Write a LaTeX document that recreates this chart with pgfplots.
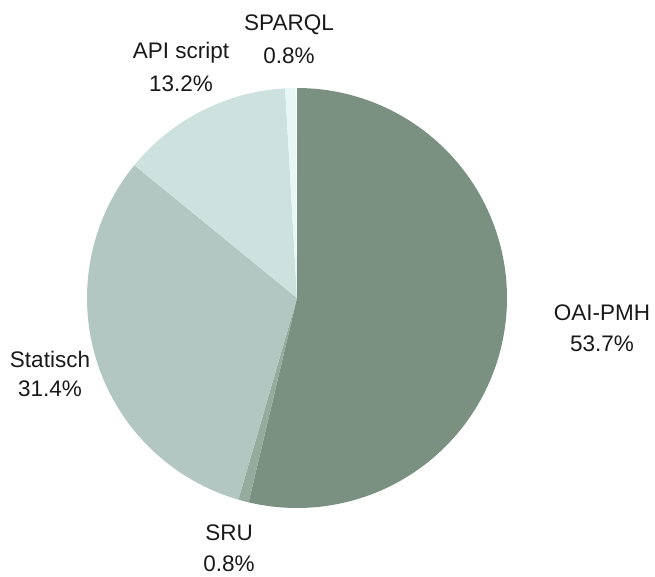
\documentclass[border=0pt]{standalone}
\usepackage{pgfplots}
\pgfplotsset{compat=1.18}
\usepackage{fontspec}
\setmainfont{Liberation Sans}
\definecolor{cOAI}{HTML}{7A9080}
\definecolor{cSRU}{HTML}{95AB9E}
\definecolor{cSTA}{HTML}{B2C7C1}
\definecolor{cAPI}{HTML}{CDE2DF}
\definecolor{cSPA}{HTML}{E6F7F5}
% shares in percent
\def\pOAI{53.7}\def\pSRU{0.8}\def\pSTA{31.4}\def\pAPI{13.2}\def\pSPA{0.8}
\begin{document}
\begin{tikzpicture}
\begin{axis}[
  scale only axis, width=655pt, height=576pt,
  xmin=0, xmax=655, ymin=0, ymax=576,
  hide axis, clip=false,
  /pgf/number format/assume math mode=true,
]
\pgfmathsetmacro{\aA}{90}
\pgfmathsetmacro{\aB}{\aA-3.6*\pOAI}
\pgfmathsetmacro{\aC}{\aB-3.6*\pSRU}
\pgfmathsetmacro{\aD}{\aC-3.6*\pSTA}
\pgfmathsetmacro{\aE}{\aD-3.6*\pAPI}
\pgfmathsetmacro{\aF}{\aE-3.6*\pSPA}
\def\cx{297}\def\cy{278}\def\R{210}
\addplot[fill=cOAI, draw=none, domain=\aB:\aA, samples=120] ({\cx+\R*cos(x)},{\cy+\R*sin(x)}) -- (axis cs:\cx,\cy) -- cycle;
\addplot[fill=cSRU, draw=none, domain=\aC:\aB, samples=5] ({\cx+\R*cos(x)},{\cy+\R*sin(x)}) -- (axis cs:\cx,\cy) -- cycle;
\addplot[fill=cSTA, draw=none, domain=\aD:\aC, samples=80] ({\cx+\R*cos(x)},{\cy+\R*sin(x)}) -- (axis cs:\cx,\cy) -- cycle;
\addplot[fill=cAPI, draw=none, domain=\aE:\aD, samples=40] ({\cx+\R*cos(x)},{\cy+\R*sin(x)}) -- (axis cs:\cx,\cy) -- cycle;
\addplot[fill=cSPA, draw=none, domain=\aF:\aE, samples=5] ({\cx+\R*cos(x)},{\cy+\R*sin(x)}) -- (axis cs:\cx,\cy) -- cycle;
\path (rel axis cs:0,0) rectangle (rel axis cs:1,1);
\tikzset{lab/.style={anchor=base, inner sep=0pt, font=\fontsize{22.5}{27}\selectfont, text=black!90}}
% labels (baselines in pixel coordinates, y flipped)
\node[lab] at (axis cs:602,{576-321}) {OAI-PMH};
\node[lab] at (axis cs:602,{576-351}) {\pOAI\%};
\node[lab] at (axis cs:229,{576-540}) {SRU};
\node[lab] at (axis cs:229,{576-571}) {\pSRU\%};
\node[lab] at (axis cs:50,{576-367}) {Statisch};
\node[lab] at (axis cs:50,{576-396}) {\pSTA\%};
\node[lab] at (axis cs:181,{576-59}) {API script};
\node[lab] at (axis cs:181,{576-92}) {\pAPI\%};
\node[lab] at (axis cs:289,{576-31}) {SPARQL};
\node[lab] at (axis cs:289,{576-64}) {\pSPA\%};
\end{axis}
\end{tikzpicture}
\end{document}
